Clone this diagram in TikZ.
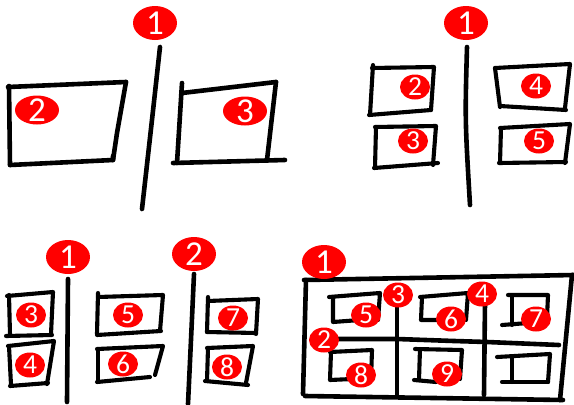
\documentclass[tikz,border=0pt]{standalone}
\usepackage{fontspec}
\setmainfont{Carlito}
\usetikzlibrary{shapes.geometric}
\begin{document}
\begin{tikzpicture}[x=1pt,y=-1pt,
 sk/.style={line width=4.6pt,line cap=round,line join=round},
 skt/.style={line width=4.1pt,line cap=round,line join=round},
 bdg/.style={ellipse,fill=red,inner sep=0pt},
 bigd/.style={text=white,font=\fontsize{35}{35}\selectfont,inner sep=0pt},
 smalld/.style={text=white,font=\fontsize{27.5}{27.5}\selectfont,inner sep=0pt},
 bigb/.style={bdg,minimum width=44pt,minimum height=34pt,label={[bigd]center:#1}},
 wideb/.style={bdg,minimum width=44pt,minimum height=29pt,label={[bigd]center:#1}},
 smallb/.style={bdg,minimum width=30pt,minimum height=25pt,label={[smalld]center:#1}}]
\useasboundingbox[fill=white] (0,0) rectangle (574,405);

% ---------- Panel 1 ----------
\draw[sk] (160,47) .. controls (152,120) .. (142,209);
\draw[sk] (8,87) -- (126,82);
\draw[sk] (126,82) -- (117,133) -- (113,160);
\draw[sk] (10,165) -- (113,160) -- (113,156);
\draw[sk] (9,86) -- (10,165);
\draw[sk] (182,83) -- (177,163);
\draw[sk] (182,93) -- (276,82);
\draw[sk] (276,82) -- (267,160);
\draw[sk] (173,163) -- (285,160);
\node[bigb=1] (a1) at (155,23) {};
\node[wideb=2] (a2) at (37,110) {};
\node[wideb=3] (a3) at (245,111) {};

% ---------- Panel 2 ----------
\draw[sk] (467,47) .. controls (465,120) .. (470,205);
\draw[skt] (372,68) -- (434,67) -- (431,110);
\draw[skt] (369,115) -- (431,110);
\draw[skt] (373,65) -- (370,115);
\draw[skt] (375,127) -- (436,126) -- (433,165);
\draw[skt] (374,168) -- (438,163);
\draw[skt] (376,127) -- (375,168);
\draw[skt] (495,68) -- (570,64) -- (565,108);
\draw[skt] (500,106) -- (566,110);
\draw[skt] (495,68) -- (500,107);
\draw[skt] (500,128) -- (570,124) -- (565,163);
\draw[skt] (499,163) -- (566,162);
\draw[skt] (501,128) -- (500,163);
\node[bigb=1] (b1) at (466,23) {};
\node[smallb=2] (b2) at (415,87) {};
\node[smallb=3] (b3) at (413,141) {};
\node[smallb=4] (b4) at (536,86) {};
\node[smallb=5] (b5) at (539,141) {};

% ---------- Panel 3 ----------
\draw[sk] (68,279) -- (67,402);
\draw[sk] (194,274) .. controls (191,340) .. (188,404);
\draw[skt] (7,296) -- (53,292) -- (51,334);
\draw[skt] (6,336) -- (52,335);
\draw[skt] (9,295) -- (10,335);
\draw[skt] (8,346) -- (54,341) -- (47,384);
\draw[skt] (10,386) -- (48,383);
\draw[skt] (9,346) -- (11,385);
\draw[skt] (98,297) -- (163,295) -- (160,331);
\draw[skt] (97,335) -- (161,331);
\draw[skt] (98,293) -- (97,334);
\draw[skt] (97,349) -- (163,346) -- (155,375);
\draw[skt] (97,382) -- (150,377);
\draw[skt] (98,350) -- (98,381);
\draw[skt] (208,301) -- (258,299) -- (256,334);
\draw[skt] (207,332) -- (256,333);
\draw[skt] (208,297) -- (207,332);
\draw[skt] (207,348) -- (253,346) -- (246,383);
\draw[skt] (205,381) -- (248,385);
\draw[skt] (208,348) -- (207,381);
\node[bigb=1] (c1) at (68,257) {};
\node[bigb=2] (c2) at (194,254) {};
\node[smallb=3] (c3) at (31,315) {};
\node[smallb=4] (c4) at (30,365) {};
\node[smallb=5] (c5) at (128,315) {};
\node[smallb=6] (c6) at (123,364) {};
\node[smallb=7] (c7) at (233,318) {};
\node[smallb=8] (c8) at (227,367) {};

% ---------- Panel 4 ----------
\draw[sk] (304,280) -- (574,275);
\draw[sk] (572,275) -- (560,400);
\draw[sk] (305,396) -- (563,400);
\draw[sk] (306,280) -- (303,394);
\draw[sk] (397,303) -- (397,395);
\draw[sk] (485,303) -- (484,395);
\draw[sk] (337,339) -- (397,339) -- (454,341) -- (487,342) -- (559,345);
% inner cells
\draw[skt] (329,297) -- (380,293) -- (378,320);
\draw[skt] (333,297) -- (333,322) -- (360,320);
\draw[skt] (330,352) -- (372,350) -- (371,380);
\draw[skt] (331,352) -- (330,380) -- (352,379);
\draw[skt] (420,297) -- (468,293) -- (466,320);
\draw[skt] (422,297) -- (421,320) -- (445,320);
\draw[skt] (415,349) -- (462,350) -- (460,379);
\draw[skt] (420,349) -- (419,380);
\draw[skt] (414,380) -- (436,382);
\draw[skt] (508,295) -- (548,295) -- (547,318);
\draw[skt] (512,296) -- (512,325);
\draw[skt] (502,325) -- (528,323);
\draw[skt] (497,357) -- (550,354) -- (548,382);
\draw[skt] (512,358) -- (512,382);
\draw[skt] (502,382) -- (548,382);
\node[bigb=1] (d1) at (324,262) {};
\node[smallb=2] (d2) at (324,340) {};
\node[smallb=3] (d3) at (398,295) {};
\node[smallb=4] (d4) at (482,294) {};
\node[smallb=5] (d5) at (366,315) {};
\node[smallb=6] (d6) at (451,319) {};
\node[smallb=7] (d7) at (536,319) {};
\node[smallb=8] (d8) at (361,375) {};
\node[smallb=9] (d9) at (447,374) {};
\end{tikzpicture}
\end{document}
